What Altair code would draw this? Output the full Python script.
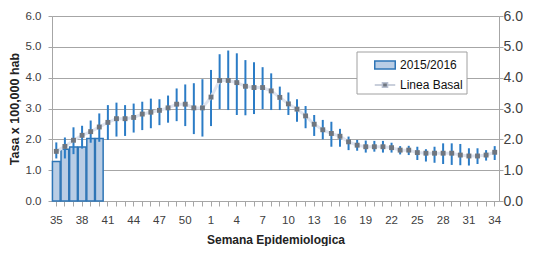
import altair as alt
import pandas as pd

weeks = [str(w) for w in range(35, 53)] + [str(w) for w in range(1, 35)]

basal = [1.61, 1.77, 1.97, 2.13, 2.25, 2.40, 2.55, 2.67, 2.67, 2.71, 2.82, 2.88, 2.94, 3.02, 3.14, 3.14, 3.02, 3.02,
         3.37, 3.91, 3.91, 3.84, 3.72, 3.68, 3.68, 3.57, 3.36, 3.15, 2.98, 2.76, 2.49, 2.31, 2.19, 2.10, 1.92, 1.81,
         1.76, 1.76, 1.76, 1.73, 1.65, 1.65, 1.57, 1.55, 1.55, 1.55, 1.55, 1.49, 1.46, 1.46, 1.49, 1.58]
err_hi = [1.90, 2.06, 2.39, 2.44, 2.61, 2.84, 3.11, 3.19, 3.11, 3.16, 3.22, 3.32, 3.30, 3.42, 3.65, 3.78, 3.82, 3.95,
          4.25, 4.76, 4.88, 4.79, 4.57, 4.50, 4.34, 4.14, 3.71, 3.52, 3.30, 3.08, 2.79, 2.63, 2.57, 2.34, 2.09, 1.98,
          1.96, 1.95, 1.95, 1.89, 1.78, 1.79, 1.76, 1.68, 1.76, 1.87, 1.87, 1.85, 1.71, 1.71, 1.65, 1.78]
err_lo = [1.38, 1.38, 1.52, 1.70, 1.89, 1.92, 1.98, 2.09, 2.11, 2.22, 2.30, 2.36, 2.46, 2.54, 2.59, 2.43, 2.17, 2.09,
          2.43, 2.98, 2.95, 2.79, 2.78, 2.82, 2.98, 2.95, 2.95, 2.79, 2.57, 2.36, 2.11, 2.00, 1.76, 1.76, 1.65, 1.63,
          1.57, 1.60, 1.57, 1.57, 1.51, 1.49, 1.33, 1.28, 1.24, 1.20, 1.17, 1.16, 1.15, 1.20, 1.31, 1.33]

bar_weeks = ["35", "36", "37", "38", "39", "40"]
bar_values = [1.28, 1.68, 1.75, 1.75, 2.03, 2.03]

label_weeks = ["35", "38", "41", "44", "47", "50", "1", "4", "7", "10", "13", "16", "19", "22", "25", "28", "31", "34"]

df = pd.DataFrame({"week": weeks, "basal": basal, "lo": err_lo, "hi": err_hi, "serie": "Linea Basal"})
dfb = pd.DataFrame({"week": bar_weeks, "value": bar_values, "serie": "2015/2016"})

FONT = "Liberation Sans, Arial, sans-serif"
LBL = "#404040"

lbl_arr = "[" + ",".join("'%s'" % w for w in label_weeks) + "]"
x_enc = alt.X(
    "week:N", sort=weeks,
    scale=alt.Scale(domain=weeks, paddingInner=0.1, paddingOuter=0.05),
    axis=alt.Axis(title="Semana Epidemiologica", labelAngle=0,
                  labelExpr="indexof(%s, datum.label) >= 0 ? datum.label : ''" % lbl_arr,
                  labelFont=FONT, labelFontSize=11.5, labelColor=LBL, labelPadding=8,
                  titleFont="Liberation Sans Narrow, Liberation Sans, Arial", titleFontSize=12,
                  titleFontWeight="bold", titleColor="#222222", titlePadding=9,
                  domainColor="#a6a6a6", tickColor="#a6a6a6", tickSize=5, grid=False)
)
yscale = alt.Scale(domain=[0, 6])

bars = alt.Chart(dfb).mark_bar(stroke="#2e75b6", strokeWidth=1.5).encode(
    x=x_enc,
    y=alt.Y("value:Q", scale=yscale,
            axis=alt.Axis(title="Tasa x 100,000 hab", values=[0, 1, 2, 3, 4, 5, 6], format=".1f", orient="left",
                          labelFont=FONT, labelFontSize=11.5, labelColor=LBL, labelPadding=7,
                          titleFont=FONT, titleFontSize=12.5, titleFontWeight="bold", titleColor="#222222",
                          titlePadding=4, domainColor="#a6a6a6", tickColor="#a6a6a6", tickSize=4,
                          grid=True, gridColor="#a6a6a6", gridWidth=1.2)),
    fill=alt.Fill("serie:N", scale=alt.Scale(domain=["2015/2016"], range=["#b9cde5"]),
                  legend=alt.Legend(title=None, orient="none", legendX=322, legendY=38,
                                    symbolType="M-1,-0.4H1V0.4H-1Z", symbolSize=420,
                                    symbolStrokeColor="#2e75b6", symbolStrokeWidth=1.5,
                                    labelFont=FONT, labelFontSize=12, labelColor="#111111", padding=0)),
)

errs = alt.Chart(df).mark_rule(color="#2b7cc6", strokeWidth=2).encode(
    x=alt.X("week:N", sort=weeks),
    y=alt.Y("lo:Q", scale=yscale, axis=None),
    y2="hi:Q",
)

line = alt.Chart(df).mark_line(color="#dfe4ef", strokeWidth=3).encode(
    x=alt.X("week:N", sort=weeks),
    y=alt.Y("basal:Q", scale=yscale, axis=None),
    strokeDash=alt.StrokeDash("serie:N", scale=alt.Scale(domain=["Linea Basal"], range=[[1, 0]]),
                              legend=alt.Legend(title=None, orient="none", legendX=322, legendY=58,
                                                symbolType="M-1,0H-0.25M0.25,0H1M-0.25,-0.22H0.25V0.22H-0.25Z",
                                                symbolSize=420, symbolStrokeColor="#b8c0d0",
                                                symbolFillColor="#707780", symbolStrokeWidth=1.5,
                                                labelFont=FONT, labelFontSize=12, labelColor="#111111",
                                                padding=0)),
)

pts = alt.Chart(df).mark_square(color="#6f767f", size=24, opacity=1).encode(
    x=alt.X("week:N", sort=weeks),
    y=alt.Y("basal:Q", scale=yscale, axis=None),
)

right = alt.Chart(df).mark_point(opacity=0).encode(
    x=alt.X("week:N", sort=weeks),
    y=alt.Y("basal:Q", scale=yscale,
            axis=alt.Axis(title=None, orient="right", values=[0, 1, 2, 3, 4, 5, 6], format=".1f",
                          labelFont=FONT, labelFontSize=14, labelColor=LBL, labelPadding=0,
                          domainColor="#a6a6a6", tickColor="#a6a6a6", tickSize=4, grid=False)),
)

box = alt.Chart(alt.Data(values=[{}])).mark_rect(fill="white", stroke="#a0a0a0", strokeWidth=1).encode(
    x=alt.value(305), x2=alt.value(415), y=alt.value(36), y2=alt.value(78)
)

chart = alt.layer(bars, box, errs, line, pts, right).resolve_axis(y="independent").properties(
    width=447, height=185,
    padding={"left": 0, "top": 1, "right": 0, "bottom": 0},
).configure_view(stroke=None).configure(background="white")

chart.save("out.html", embed_options={"renderer": "svg", "actions": False})
